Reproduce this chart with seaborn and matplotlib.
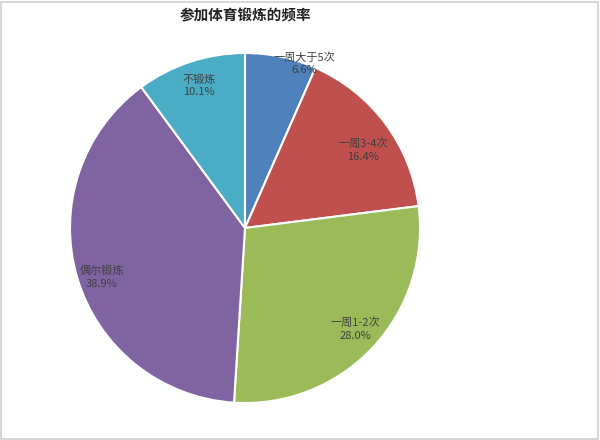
import numpy as np
import matplotlib
matplotlib.use("Agg")
import matplotlib.pyplot as plt
import seaborn as sns

sns.set_theme(style="white")
plt.rcParams["font.family"] = ["Noto Sans CJK SC", "DejaVu Sans"]

# data, clockwise from 12 o'clock
labels = ["一周大于5次", "一周3-4次", "一周1-2次", "偶尔锻炼", "不锻炼"]
values = [6.6, 16.4, 28.0, 38.9, 10.1]
colors = ["#4F81BD", "#C0504D", "#9BBB59", "#8064A2", "#4BACC6"]
# label placement (radius fraction, angle nudge in degrees)
label_r = [1.0, 0.81, 0.855, 0.865, 0.855]
label_dang = [-8.0, -3.4, 0.6, 2.7, -0.3]

fig = plt.figure(figsize=(6, 4.4), dpi=100)
fig.patch.set_facecolor("white")

# pie: center (245, 228) px, radius 175 px
ax = fig.add_axes([(245 - 175) / 600, (440 - 228 - 175) / 440, 350 / 600, 350 / 440])
wedges, _ = ax.pie(values, colors=colors, startangle=90, counterclock=False,
                   radius=1.0, wedgeprops=dict(edgecolor="white", linewidth=1.5))
ax.set_xlim(-1, 1); ax.set_ylim(-1, 1)
ax.set_aspect("equal")
ax.axis("off")

for w, lab, v, r, da in zip(wedges, labels, values, label_r, label_dang):
    ang = np.deg2rad((w.theta1 + w.theta2) / 2 + da)
    x, y = r * np.cos(ang), r * np.sin(ang)
    ax.text(x, y, f"{lab}\n{v:.1f}%", ha="center", va="center",
            fontsize=8, color="#404040", linespacing=1.35, clip_on=False)

fig.text(245 / 600, 1 - 15 / 440, "参加体育锻炼的频率", ha="center", va="center",
         fontsize=10.5, fontweight="bold", color="#222222")

# thin outer border
fig.add_artist(plt.Rectangle((0.002, 0.003), 0.994, 0.993, transform=fig.transFigure,
                             fill=False, edgecolor="#D0D0D0", linewidth=1.2))

fig.savefig("out.png", dpi=100)
